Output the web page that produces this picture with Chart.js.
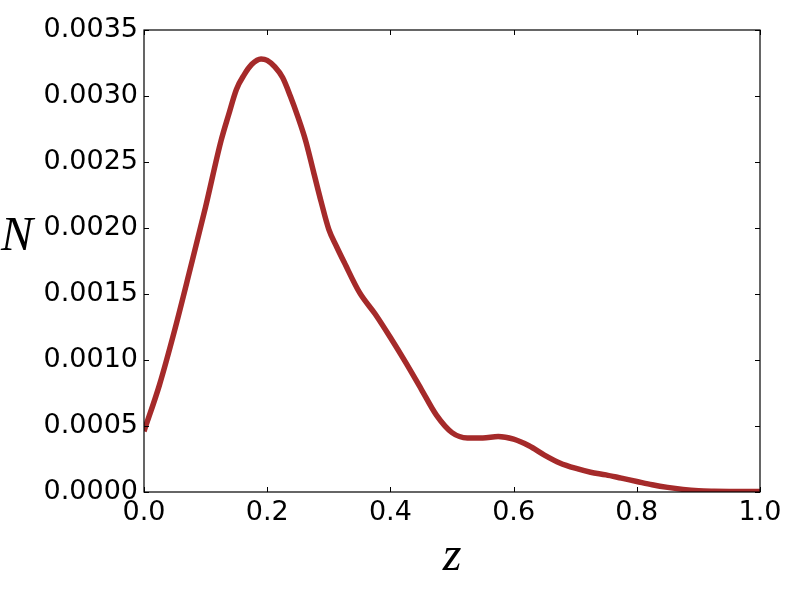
<!DOCTYPE html>
<html>
<head>
<meta charset="utf-8">
<script src="https://cdn.jsdelivr.net/npm/chart.js@4/dist/chart.umd.min.js"></script>
<style>
  html, body { margin: 0; padding: 0; background: #fff; }
  #wrap { width: 800px; height: 600px; }
</style>
</head>
<body>
<div id="wrap"><canvas id="chart" width="800" height="600"></canvas></div>
<script>
// redshift distribution
const zValues = [0.0, 0.025, 0.05, 0.075, 0.10, 0.125, 0.1375, 0.15, 0.1625, 0.175,
                 0.19, 0.20, 0.2125, 0.225, 0.2375, 0.25, 0.2625, 0.275, 0.2875, 0.30,
                 0.3125, 0.325, 0.35, 0.375, 0.40, 0.425, 0.45, 0.475, 0.50, 0.525,
                 0.55, 0.575, 0.60, 0.625, 0.65, 0.675, 0.70, 0.725, 0.75, 0.775,
                 0.80, 0.825, 0.85, 0.875, 0.90, 0.925, 0.95, 1.0];
const nValues = [0.00046, 0.00081, 0.00123, 0.00169, 0.00216, 0.00266, 0.00286, 0.00305, 0.00316, 0.00324,
                 0.00328, 0.00327, 0.00322, 0.00314, 0.00300, 0.00284, 0.00266, 0.00243, 0.00220, 0.00199,
                 0.00186, 0.00174, 0.00151, 0.00135, 0.00117, 0.00098, 0.00078, 0.00058, 0.00045, 0.00041,
                 0.00041, 0.00042, 0.00040, 0.00035, 0.00028, 0.00022, 0.00018, 0.00015, 0.00013, 0.000105,
                 0.00008, 0.000055, 0.000035, 0.00002, 0.00001, 0.000006, 0.000004, 0.000003];
const xTicks = [0.0, 0.2, 0.4, 0.6, 0.8, 1.0];
const yTicks = [0.0, 0.0005, 0.001, 0.0015, 0.002, 0.0025, 0.003, 0.0035];

const tickFont = { family: 'DejaVu Sans', size: 27 };

// box around the plot, inward ticks on all four sides, and the math-style axis labels
const framePlugin = {
    id: 'frame',
    afterDraw(chart) {
        const { ctx, chartArea: a, scales } = chart;
        ctx.save();
        ctx.strokeStyle = '#000';
        ctx.lineWidth = 1;
        ctx.beginPath();
        xTicks.forEach(v => {
            const px = Math.round(scales.x.getPixelForValue(v)) + 0.5;
            ctx.moveTo(px, a.bottom); ctx.lineTo(px, a.bottom - 5);
            ctx.moveTo(px, a.top); ctx.lineTo(px, a.top + 5);
        });
        yTicks.forEach(v => {
            const py = Math.round(scales.y.getPixelForValue(v)) + 0.5;
            ctx.moveTo(a.left, py); ctx.lineTo(a.left + 5, py);
            ctx.moveTo(a.right, py); ctx.lineTo(a.right - 5, py);
        });
        ctx.stroke();
        ctx.lineWidth = 1.2;
        ctx.strokeRect(a.left, a.top, a.right - a.left, a.bottom - a.top);

        ctx.fillStyle = '#000';
        ctx.font = 'italic 48px "Liberation Serif"';
        ctx.textAlign = 'left';
        ctx.textBaseline = 'alphabetic';
        ctx.fillText('N', 1, 250);
        ctx.textAlign = 'center';
        ctx.fillText('z', (a.left + a.right) / 2, 570);
        ctx.restore();
    }
};

new Chart(document.getElementById('chart'), {
    type: 'line',
    data: {
        datasets: [{
            data: zValues.map((z, i) => ({ x: z, y: nValues[i] })),
            borderColor: '#a52a2a',
            borderWidth: 5.5,
            pointRadius: 0,
            cubicInterpolationMode: 'monotone',
            fill: false
        }]
    },
    options: {
        responsive: false,
        animation: false,
        layout: { padding: { top: 30, right: 40, left: 0, bottom: 0 } },
        plugins: { legend: { display: false }, tooltip: { enabled: false } },
        scales: {
            x: {
                type: 'linear',
                min: 0, max: 1,
                afterBuildTicks: s => { s.ticks = xTicks.map(v => ({ value: v })); },
                afterFit: s => { s.height = 108; },
                ticks: {
                    color: '#000', font: tickFont, padding: 5,
                    callback: v => v.toFixed(1)
                },
                grid: { display: false, drawTicks: false, tickLength: 0 },
                border: { display: false }
            },
            y: {
                type: 'linear',
                min: 0, max: 0.0035,
                afterBuildTicks: s => { s.ticks = yTicks.map(v => ({ value: v })); },
                afterFit: s => { s.width = 144; },
                ticks: {
                    color: '#000', font: tickFont, padding: 6,
                    callback: v => v.toFixed(4)
                },
                grid: { display: false, drawTicks: false, tickLength: 0 },
                border: { display: false }
            }
        }
    },
    plugins: [framePlugin]
});
</script>
</body>
</html>
